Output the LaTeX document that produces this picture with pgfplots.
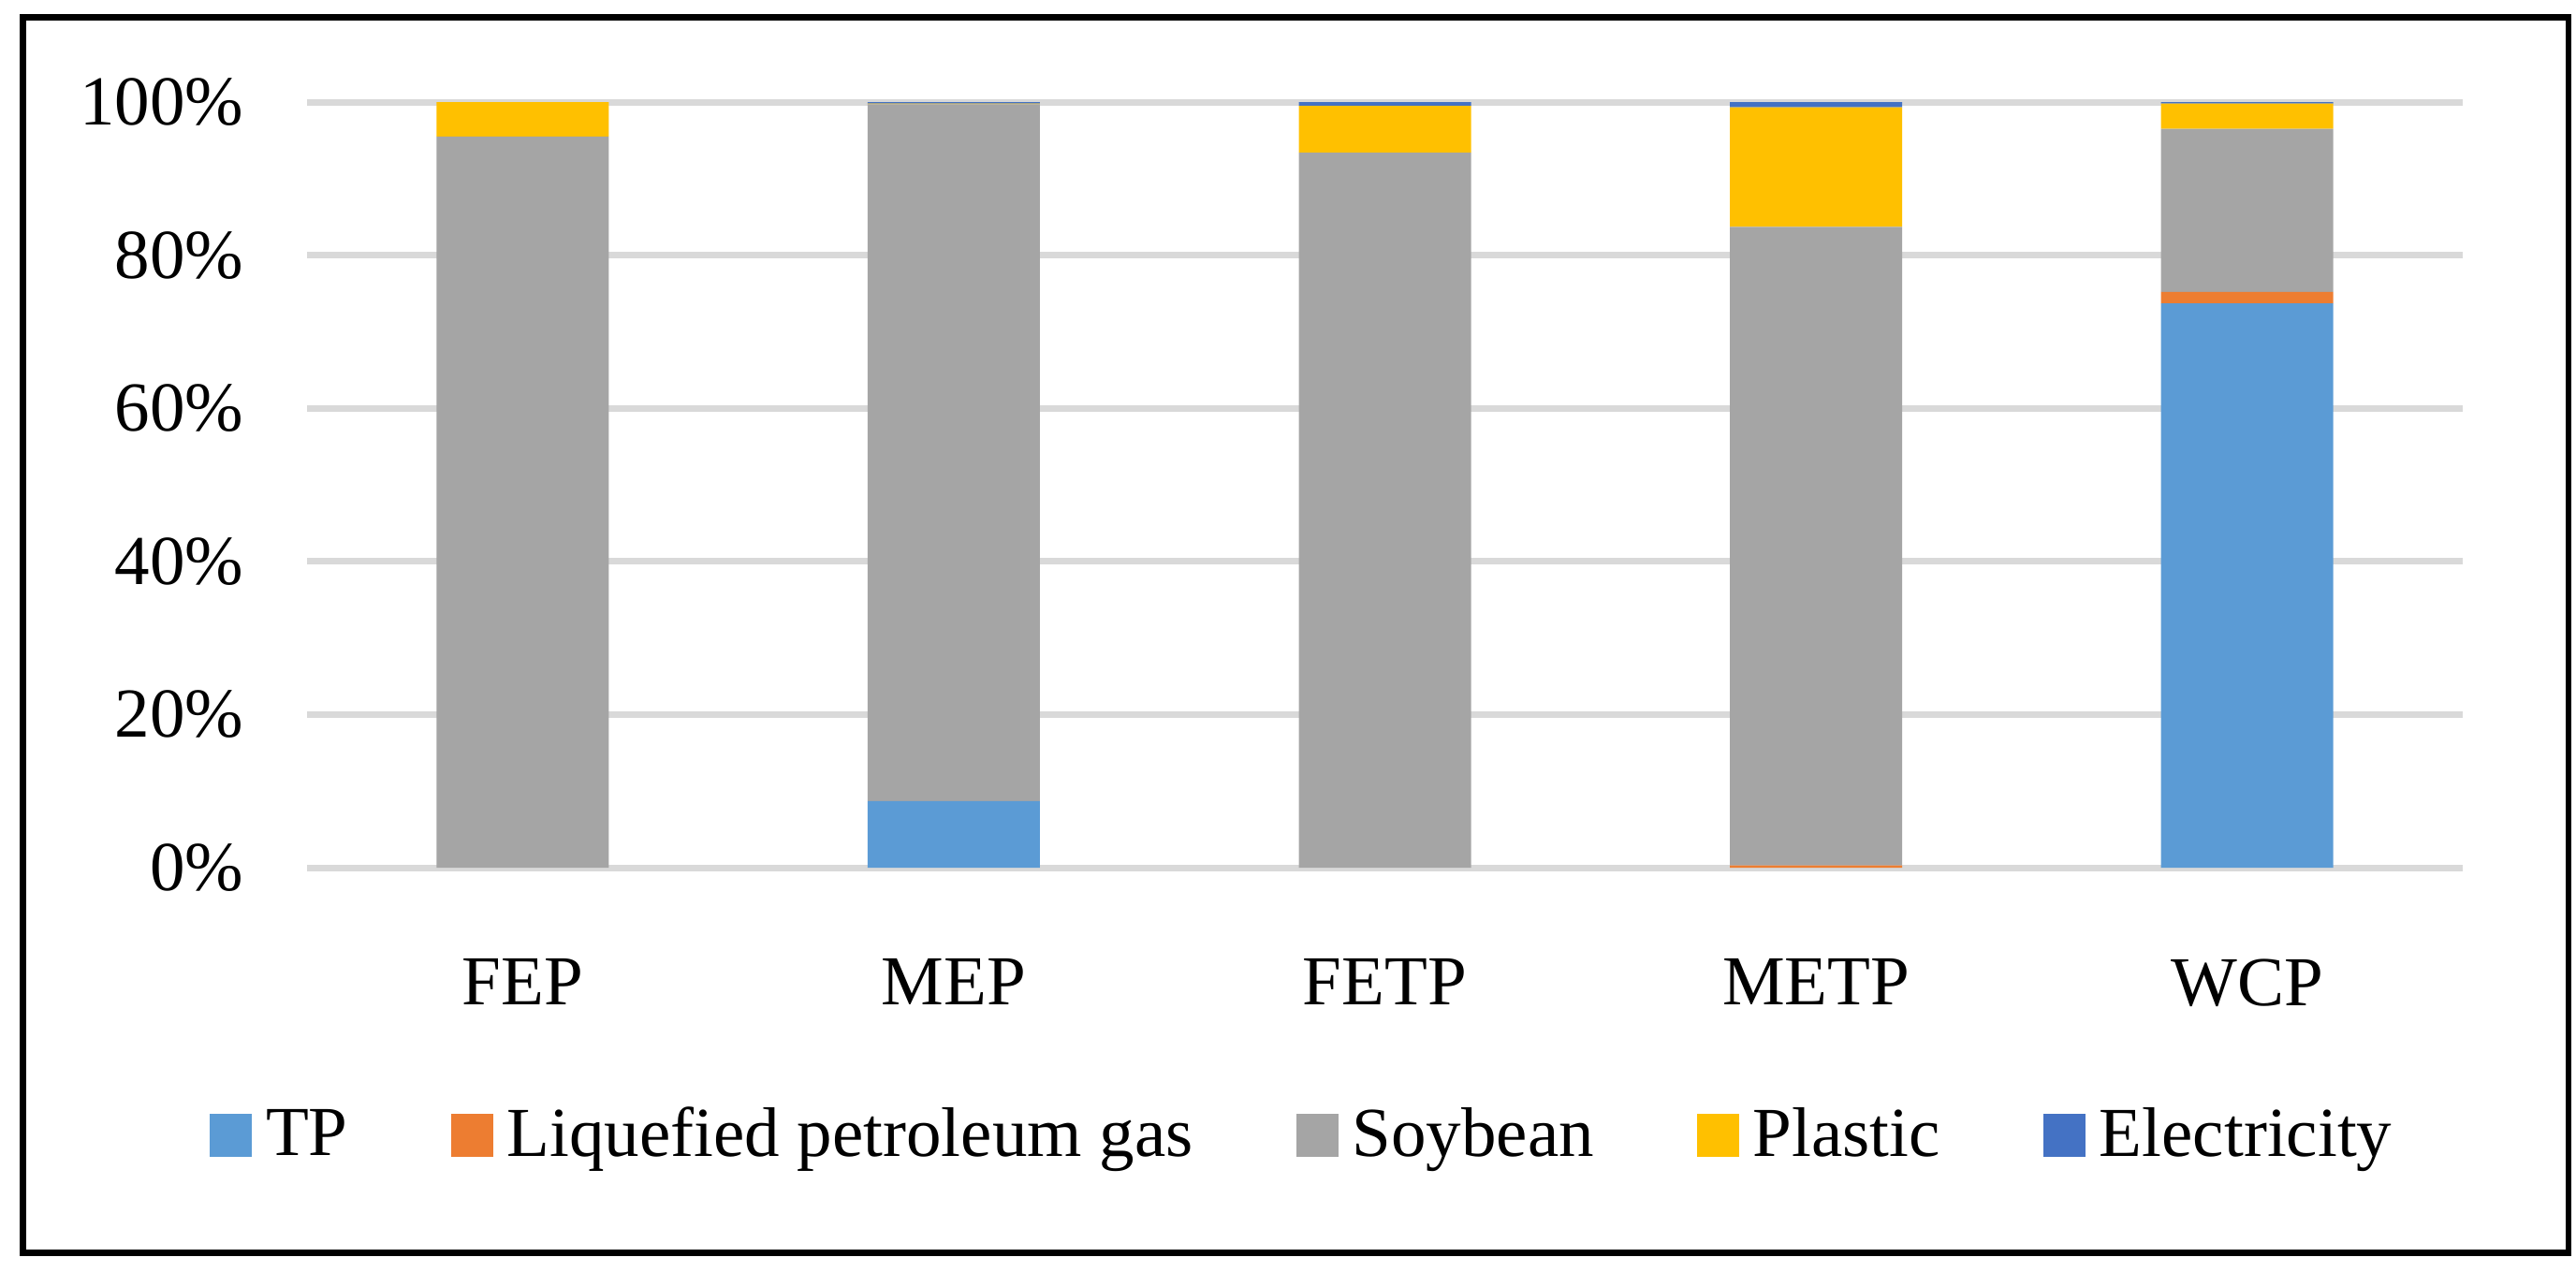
\documentclass[border=0pt]{standalone}
\usepackage{fontspec}
\setmainfont{Liberation Serif}
\usepackage{pgfplots}
\pgfplotsset{compat=1.18}

\definecolor{cTP}{HTML}{5B9BD5}
\definecolor{cLPG}{HTML}{ED7D31}
\definecolor{cSoy}{HTML}{A5A5A5}
\definecolor{cPla}{HTML}{FFC000}
\definecolor{cEle}{HTML}{4472C4}
\definecolor{gridgray}{HTML}{D9D9D9}

\begin{document}
\begin{tikzpicture}[font=\fontsize{15}{18}\selectfont]
\useasboundingbox (0,0) rectangle (550.4pt,271.6pt);
\draw[line width=1.3pt] (4.9pt,3.9pt) rectangle (548.8pt,267.9pt);
\begin{axis}[
    at={(65.6pt,86.2pt)}, anchor=south west,
    scale only axis,
    width=460.6pt, height=163.6pt,
    ybar stacked,
    bar width=36.8pt,
    xmin=-0.5, xmax=4.5,
    ymin=0, ymax=100,
    xtick={0,1,2,3,4},
    xticklabels={FEP,MEP,FETP,METP,WCP},
    ytick={0,20,40,60,80,100},
    yticklabel={\pgfmathprintnumber{\tick}\%},
    /pgf/number format/assume math mode=true,
    axis line style={draw=none},
    major tick length=0pt,
    ymajorgrids,
    grid style={color=gridgray, line width=1.4pt},
    yticklabel style={xshift=-10pt},
    xticklabel style={yshift=-16pt},
    legend columns=5,
    legend style={draw=none, at={(0.461,-0.35)}, anchor=center,
        cells={anchor=west},
        nodes={inner xsep=0pt},
        /tikz/every odd column/.append style={column sep=3pt},
        /tikz/every even column/.append style={column sep=22pt}},
    legend image code/.code={\fill[#1] (0pt,-4.6pt) rectangle (9pt,4.6pt);},
]
\addplot[fill=cTP, draw=none] coordinates {(0,0) (1,8.7) (2,0) (3,0) (4,73.7)};
\addplot[fill=cLPG, draw=none] coordinates {(0,0) (1,0) (2,0) (3,0.3) (4,1.5)};
\addplot[fill=cSoy, draw=none] coordinates {(0,95.5) (1,91.0) (2,93.4) (3,83.4) (4,21.3)};
\addplot[fill=cPla, draw=none] coordinates {(0,4.5) (1,0.1) (2,6.1) (3,15.6) (4,3.3)};
\addplot[fill=cEle, draw=none] coordinates {(0,0) (1,0.2) (2,0.5) (3,0.7) (4,0.2)};
\legend{TP,Liquefied petroleum gas,Soybean,Plastic,Electricity}
\end{axis}
\end{tikzpicture}
\end{document}
